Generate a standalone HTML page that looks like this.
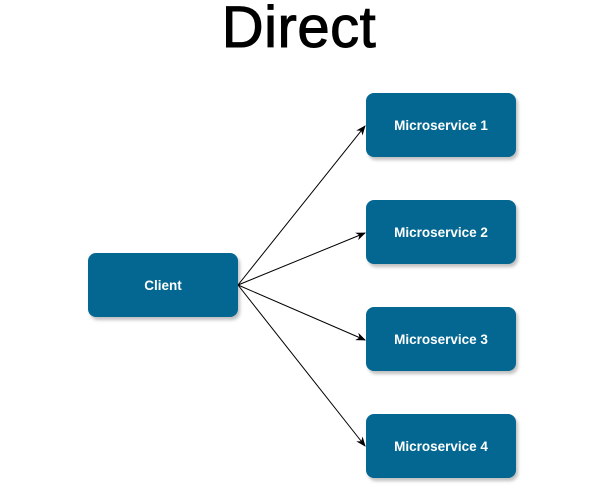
<!DOCTYPE html>
<html><head><style>
html,body{margin:0;padding:0;background:#fff;width:598px;height:488px;overflow:hidden;font-family:"Liberation Sans",sans-serif;}
.t{position:absolute;left:0;width:598px;top:-6px;text-align:center;font-size:58px;color:#000;-webkit-text-stroke:1px #000;letter-spacing:0.5px;}
.b{position:absolute;width:150px;height:64px;background:#036791;border-radius:8px;box-shadow:2px 3px 3px rgba(0,0,0,0.25);color:#fff;font-weight:bold;font-size:13.5px;display:flex;align-items:center;justify-content:center;}
</style></head><body>
<div class="t">Direct</div>
<svg width="598" height="488" style="position:absolute;left:0;top:0">
<defs><marker id="a" markerWidth="10" markerHeight="10" refX="9" refY="5" orient="auto" markerUnits="userSpaceOnUse"><path d="M0,1 L10,5 L0,9 L3,5 z" fill="#000"/></marker></defs>
<g stroke="#000" stroke-width="1" fill="none" marker-end="url(#a)">
<line x1="238" y1="285" x2="365" y2="126"/>
<line x1="238" y1="285" x2="365" y2="233"/>
<line x1="238" y1="285" x2="365" y2="340"/>
<line x1="238" y1="285" x2="365" y2="446"/>
</g></svg>
<div class="b" style="left:88px;top:253px">Client</div>
<div class="b" style="left:366px;top:93px">Microservice 1</div>
<div class="b" style="left:366px;top:200px">Microservice 2</div>
<div class="b" style="left:366px;top:307px">Microservice 3</div>
<div class="b" style="left:366px;top:414px">Microservice 4</div>
</body></html>
